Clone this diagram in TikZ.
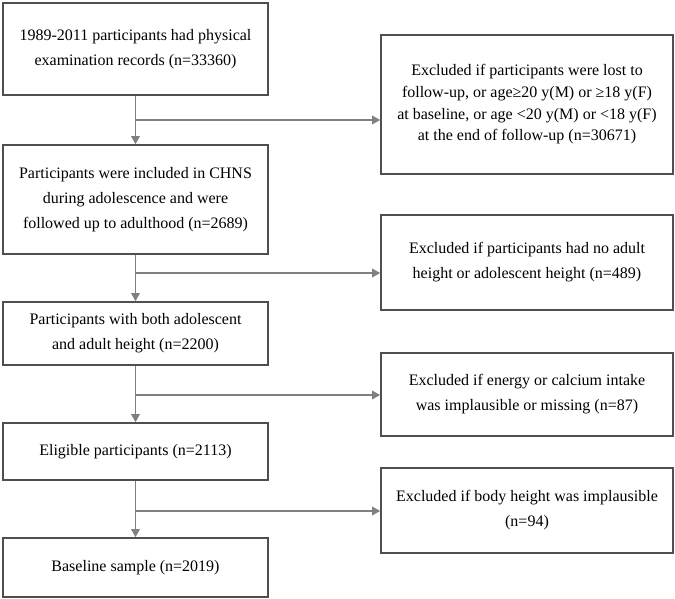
\documentclass[tikz,border=0pt]{standalone}
\usepackage{fontspec}
\setmainfont{Liberation Serif}
\usetikzlibrary{arrows.meta}
\definecolor{boxline}{HTML}{4F4F4F}
\definecolor{arrline}{HTML}{808080}
\begin{document}
\begin{tikzpicture}[x=1pt,y=-1pt,
  lbox/.style={draw=boxline,line width=1.6pt,minimum width=265pt,inner sep=0pt,align=center,font=\fontsize{16}{25}\selectfont},
  rbox/.style={draw=boxline,line width=1.6pt,minimum width=292pt,inner sep=0pt,align=center,font=\fontsize{16}{25}\selectfont},
  flow/.style={draw=arrline,line width=1.4pt,-{Triangle[length=8pt,width=8.5pt]}},
  branch/.style={draw=arrline,line width=1.4pt}]
\useasboundingbox (0,0) rectangle (675,599);
\node[lbox,minimum height=92pt] (b1) at (135.5,49) {1989-2011 participants had physical\\examination records (n=33360)};
\node[lbox,minimum height=109pt] (b2) at (135.5,199.5) {Participants were included in CHNS\\during adolescence and were\\followed up to adulthood (n=2689)};
\node[lbox,minimum height=63pt] (b3) at (135.5,333.5) {Participants with both adolescent\\and adult height (n=2200)};
\node[lbox,minimum height=57pt] (b4) at (135.5,451.5) {Eligible participants (n=2113)};
\node[lbox,minimum height=59pt] (b5) at (135.5,567.5) {Baseline sample (n=2019)};
\node[rbox,minimum height=139pt,font=\fontsize{16}{21.7}\selectfont] (r1) at (527,104.5) {Excluded if participants were lost to\\follow-up, or age≥20 y(M) or ≥18 y(F)\\at baseline, or age <20 y(M) or <18 y(F)\\at the end of follow-up (n=30671)};
\node[rbox,minimum height=95pt] (r2) at (527,262.5) {Excluded if participants had no adult\\height or adolescent height (n=489)};
\node[rbox,minimum height=83pt] (r3) at (527,394.5) {Excluded if energy or calcium intake\\was implausible or missing (n=87)};
\node[rbox,minimum height=85pt] (r4) at (527,510.5) {Excluded if body height was implausible\\(n=94)};
\coordinate (j1) at (135.5,120);
\coordinate (j2) at (135.5,273);
\coordinate (j3) at (135.5,395);
\coordinate (j4) at (135.5,511);
\draw[flow] (b1) -- (b2);
\draw[flow] (b2) -- (b3);
\draw[flow] (b3) -- (b4);
\draw[flow] (b4) -- (b5);
\draw[flow] (j1) -- (j1 -| r1.west);
\draw[flow] (j2) -- (j2 -| r2.west);
\draw[flow] (j3) -- (j3 -| r3.west);
\draw[flow] (j4) -- (j4 -| r4.west);
\end{tikzpicture}
\end{document}
